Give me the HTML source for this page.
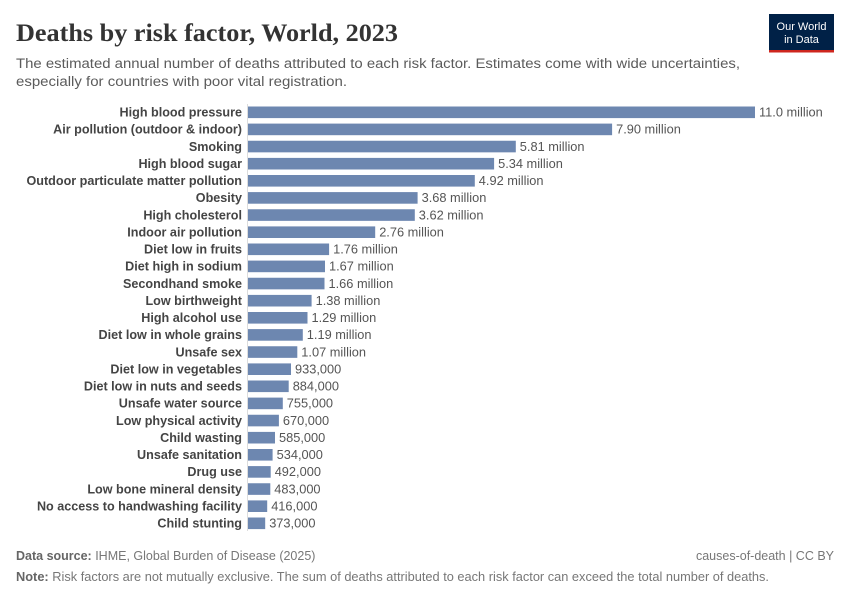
<!DOCTYPE html>
<html><head><meta charset="utf-8"><style>
body{margin:0;background:#fff;}
svg text{font-family:"Liberation Sans",sans-serif;}
.l{font-size:12.6px;font-weight:bold;fill:#444;text-anchor:end;}
.v{font-size:12.8px;fill:#555;}
</style></head><body>
<svg width="850" height="600" viewBox="0 0 850 600" xmlns="http://www.w3.org/2000/svg">
<rect width="850" height="600" fill="#fff"/>
<text x="16" y="41" style="font-family:'Liberation Serif',serif" font-weight="bold" font-size="25" fill="#333" textLength="382" lengthAdjust="spacingAndGlyphs">Deaths by risk factor, World, 2023</text>
<rect x="769" y="14" width="65" height="36" fill="#002147"/>
<rect x="769" y="50" width="65" height="2.5" fill="#ce261e"/>
<text x="801.5" y="30" font-size="11" fill="#fff" text-anchor="middle">Our World</text>
<text x="801.5" y="43" font-size="11" fill="#fff" text-anchor="middle">in Data</text>
<text x="16" y="68" font-size="14.2" fill="#5b5b5b" textLength="724" lengthAdjust="spacingAndGlyphs">The estimated annual number of deaths attributed to each risk factor. Estimates come with wide uncertainties,</text>
<text x="16" y="86" font-size="14.2" fill="#5b5b5b" textLength="331" lengthAdjust="spacingAndGlyphs">especially for countries with poor vital registration.</text>
<line x1="247.5" y1="104" x2="247.5" y2="531" stroke="#ddd" stroke-width="1"/>
<g fill="#6d87b0">
<rect x="248" y="106.5" width="507.0" height="11.6"/>
<rect x="248" y="123.6" width="364.1" height="11.6"/>
<rect x="248" y="140.75" width="267.8" height="11.6"/>
<rect x="248" y="157.9" width="246.1" height="11.6"/>
<rect x="248" y="175.0" width="226.8" height="11.6"/>
<rect x="248" y="192.1" width="169.6" height="11.6"/>
<rect x="248" y="209.25" width="166.8" height="11.6"/>
<rect x="248" y="226.4" width="127.2" height="11.6"/>
<rect x="248" y="243.5" width="81.1" height="11.6"/>
<rect x="248" y="260.6" width="77.0" height="11.6"/>
<rect x="248" y="277.75" width="76.5" height="11.6"/>
<rect x="248" y="294.9" width="63.6" height="11.6"/>
<rect x="248" y="312.0" width="59.5" height="11.6"/>
<rect x="248" y="329.1" width="54.8" height="11.6"/>
<rect x="248" y="346.25" width="49.3" height="11.6"/>
<rect x="248" y="363.4" width="43.0" height="11.6"/>
<rect x="248" y="380.5" width="40.7" height="11.6"/>
<rect x="248" y="397.6" width="34.8" height="11.6"/>
<rect x="248" y="414.75" width="30.9" height="11.6"/>
<rect x="248" y="431.9" width="27.0" height="11.6"/>
<rect x="248" y="449.0" width="24.6" height="11.6"/>
<rect x="248" y="466.1" width="22.7" height="11.6"/>
<rect x="248" y="483.25" width="22.3" height="11.6"/>
<rect x="248" y="500.4" width="19.2" height="11.6"/>
<rect x="248" y="517.5" width="17.2" height="11.6"/>
</g>
<g>
<text class="l" x="242" y="116.6">High blood pressure</text>
<text class="l" x="242" y="133.7">Air pollution (outdoor &amp; indoor)</text>
<text class="l" x="242" y="150.85">Smoking</text>
<text class="l" x="242" y="168.0">High blood sugar</text>
<text class="l" x="242" y="185.1">Outdoor particulate matter pollution</text>
<text class="l" x="242" y="202.2">Obesity</text>
<text class="l" x="242" y="219.35">High cholesterol</text>
<text class="l" x="242" y="236.5">Indoor air pollution</text>
<text class="l" x="242" y="253.6">Diet low in fruits</text>
<text class="l" x="242" y="270.7">Diet high in sodium</text>
<text class="l" x="242" y="287.85">Secondhand smoke</text>
<text class="l" x="242" y="305.0">Low birthweight</text>
<text class="l" x="242" y="322.1">High alcohol use</text>
<text class="l" x="242" y="339.2">Diet low in whole grains</text>
<text class="l" x="242" y="356.35">Unsafe sex</text>
<text class="l" x="242" y="373.5">Diet low in vegetables</text>
<text class="l" x="242" y="390.6">Diet low in nuts and seeds</text>
<text class="l" x="242" y="407.7">Unsafe water source</text>
<text class="l" x="242" y="424.85">Low physical activity</text>
<text class="l" x="242" y="442.0">Child wasting</text>
<text class="l" x="242" y="459.1">Unsafe sanitation</text>
<text class="l" x="242" y="476.2">Drug use</text>
<text class="l" x="242" y="493.35">Low bone mineral density</text>
<text class="l" x="242" y="510.5">No access to handwashing facility</text>
<text class="l" x="242" y="527.6">Child stunting</text>
</g>
<g>
<text class="v" x="759.0" y="116.6">11.0 million</text>
<text class="v" x="616.1" y="133.7">7.90 million</text>
<text class="v" x="519.8" y="150.85">5.81 million</text>
<text class="v" x="498.1" y="168.0">5.34 million</text>
<text class="v" x="478.8" y="185.1">4.92 million</text>
<text class="v" x="421.6" y="202.2">3.68 million</text>
<text class="v" x="418.8" y="219.35">3.62 million</text>
<text class="v" x="379.2" y="236.5">2.76 million</text>
<text class="v" x="333.1" y="253.6">1.76 million</text>
<text class="v" x="329.0" y="270.7">1.67 million</text>
<text class="v" x="328.5" y="287.85">1.66 million</text>
<text class="v" x="315.6" y="305.0">1.38 million</text>
<text class="v" x="311.5" y="322.1">1.29 million</text>
<text class="v" x="306.8" y="339.2">1.19 million</text>
<text class="v" x="301.3" y="356.35">1.07 million</text>
<text class="v" x="295.0" y="373.5">933,000</text>
<text class="v" x="292.7" y="390.6">884,000</text>
<text class="v" x="286.8" y="407.7">755,000</text>
<text class="v" x="282.9" y="424.85">670,000</text>
<text class="v" x="279.0" y="442.0">585,000</text>
<text class="v" x="276.6" y="459.1">534,000</text>
<text class="v" x="274.7" y="476.2">492,000</text>
<text class="v" x="274.3" y="493.35">483,000</text>
<text class="v" x="271.2" y="510.5">416,000</text>
<text class="v" x="269.2" y="527.6">373,000</text>
</g>
<text x="16" y="560" font-size="12.5" fill="#777"><tspan font-weight="bold" fill="#666">Data source:</tspan> IHME, Global Burden of Disease (2025)</text>
<text x="834" y="560" font-size="12.5" fill="#777" text-anchor="end">causes-of-death | CC BY</text>
<text x="16" y="581" font-size="12.5" fill="#777" textLength="753" lengthAdjust="spacingAndGlyphs"><tspan font-weight="bold" fill="#666">Note:</tspan> Risk factors are not mutually exclusive. The sum of deaths attributed to each risk factor can exceed the total number of deaths.</text>
</svg>
</body></html>
